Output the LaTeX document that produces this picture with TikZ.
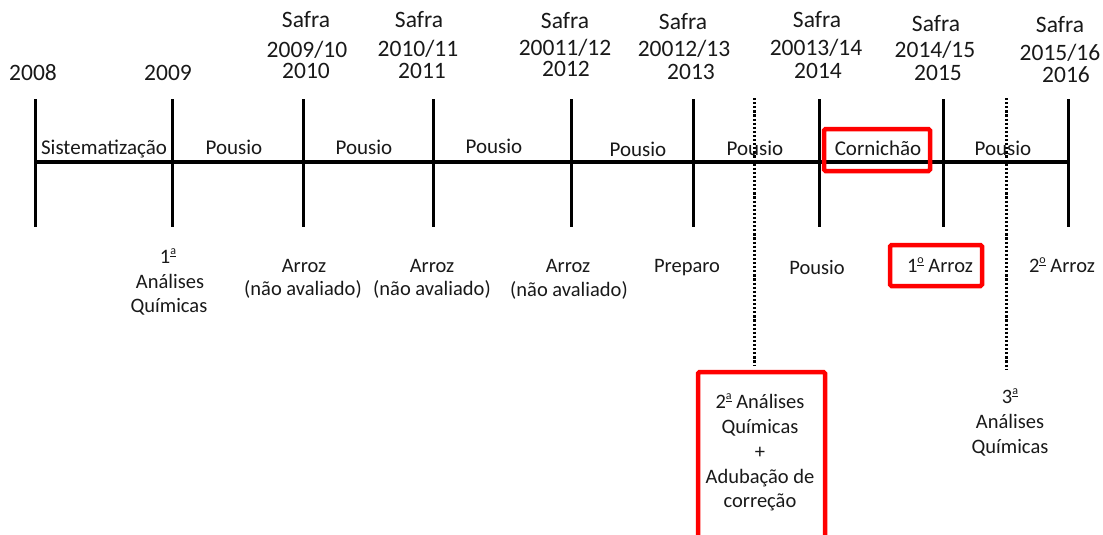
\documentclass[tikz,border=0pt]{standalone}
\usepackage{fontspec}
\setmainfont{Carlito}
\newcommand\myord[1]{\raisebox{0.42em}{\fontsize{12}{12}\selectfont\underline{#1}}}
\begin{document}
\begin{tikzpicture}[x=1pt,y=-1pt,
  lbl/.style={anchor=base, inner sep=0pt, text=black!90, font=\fontsize{20.5}{24}\selectfont},
  midlbl/.style={lbl, font=\fontsize{21}{24}\selectfont},
  toplbl/.style={lbl, font=\fontsize{23.5}{26}\selectfont, text height=0.68em, text depth=0.1em},
  tickline/.style={line width=3pt},
  axisline/.style={line width=4.5pt},
  dotline/.style={line width=3pt, dash pattern=on 2.2pt off 1.9pt},
  redbox/.style={draw=red, line width=4.5pt, rounded corners=1.5pt, inner sep=0pt}]
\clip (0,0) rectangle (1103,535);
\fill[white] (0,0) rectangle (1103,535);
% ticks and axis
\foreach \x [count=\i] in {35,172,303,433,571,693,819,943,1068} {
  \coordinate (tt\i) at (\x,99);
  \coordinate (tb\i) at (\x,227);
  \draw[tickline] (tt\i) -- (tb\i);
}
\coordinate (axL) at (34,162);
\coordinate (axR) at (1069,162);
\draw[axisline] (axL) -- (axR);
% dotted lines
\coordinate (d1t) at (754,98); \coordinate (d1b) at (754,366);
\coordinate (d2t) at (1006,98); \coordinate (d2b) at (1006,370);
\draw[dotline] (d1t) -- (d1b);
\draw[dotline] (d2t) -- (d2b);
% top labels
\node[toplbl] (y2008) at (33,81) {2008};
\node[toplbl] (y2009) at (168,81) {2009};
\node[toplbl] (s1a) at (306,28) {Safra};
\node[toplbl] (s1b) at (307,58) {2009/10};
\node[toplbl] (s1c) at (306,78) {2010};
\node[toplbl] (s2a) at (419,28) {Safra};
\node[toplbl] (s2b) at (418,57) {2010/11};
\node[toplbl] (s2c) at (422,78) {2011};
\node[toplbl] (s3a) at (565,29) {Safra};
\node[toplbl] (s3b) at (565,56) {20011/12};
\node[toplbl] (s3c) at (566,77) {2012};
\node[toplbl] (s4a) at (683,30) {Safra};
\node[toplbl] (s4b) at (684,57) {20012/13};
\node[toplbl] (s4c) at (691,80) {2013};
\node[toplbl] (s5a) at (817,28) {Safra};
\node[toplbl] (s5b) at (816,56) {20013/14};
\node[toplbl] (s5c) at (818,78) {2014};
\node[toplbl] (s6a) at (936,32) {Safra};
\node[toplbl] (s6b) at (935,58) {2014/15};
\node[toplbl] (s6c) at (938,81) {2015};
\node[toplbl] (s7a) at (1060,33) {Safra};
\node[toplbl] (s7b) at (1060,61) {2015/16};
\node[toplbl] (s7c) at (1066,82) {2016};
% segment labels
\node[midlbl] (g1) at (104,154) {Sistematização};
\node[midlbl] (g2) at (234,154) {Pousio};
\node[midlbl] (g3) at (364,154) {Pousio};
\node[midlbl] (g4) at (494,153) {Pousio};
\node[midlbl] (g5) at (638,156) {Pousio};
\node[midlbl] (g6) at (755,155) {Pousio};
\node[midlbl] (g7) at (878,155) {Cornichão};
\node[midlbl] (g8) at (1003,155) {Pousio};
\node[redbox, minimum width=106pt, minimum height=42pt] (cbox) at (877,150) {};
% bottom labels
\node[lbl] (b1a) at (168,263) {1\myord{a}};
\node[lbl] (b1b) at (170,288) {Análises};
\node[lbl] (b1c) at (169,312) {Químicas};
\node[lbl] (b2a) at (304,272) {Arroz};
\node[lbl] (b2b) at (303,295) {(não avaliado)};
\node[lbl] (b3a) at (432,272) {Arroz};
\node[lbl] (b3b) at (432,295) {(não avaliado)};
\node[lbl] (b4a) at (568,272) {Arroz};
\node[lbl] (b4b) at (569,296) {(não avaliado)};
\node[lbl] (b5) at (687,272) {Preparo};
\node[lbl] (b6) at (817,274) {Pousio};
\node[lbl] (b7) at (940,272) {1\myord{o} Arroz};
\node[lbl] (b8) at (1062,272) {2\myord{o} Arroz};
\node[redbox, minimum width=92pt, minimum height=41pt] (abox) at (936,265.5) {};
% third analysis
\node[lbl] (c1) at (1010,403) {3\myord{a}};
\node[lbl] (c2) at (1010,428) {Análises};
\node[lbl] (c3) at (1010,453) {Químicas};
% second analysis box
\node[lbl] (e1) at (760,408) {2\myord{a} Análises};
\node[lbl] (e2) at (760,433) {Químicas};
\node[lbl] (e3) at (760,458) {+};
\node[lbl] (e4) at (760,483) {Adubação de};
\node[lbl] (e5) at (760,507) {correção};
\coordinate (ebl) at (698,560);
\coordinate (etr) at (825,372);
\draw[draw=red, line width=4.5pt, rounded corners=1.5pt] (ebl) rectangle (etr);
\end{tikzpicture}
\end{document}
